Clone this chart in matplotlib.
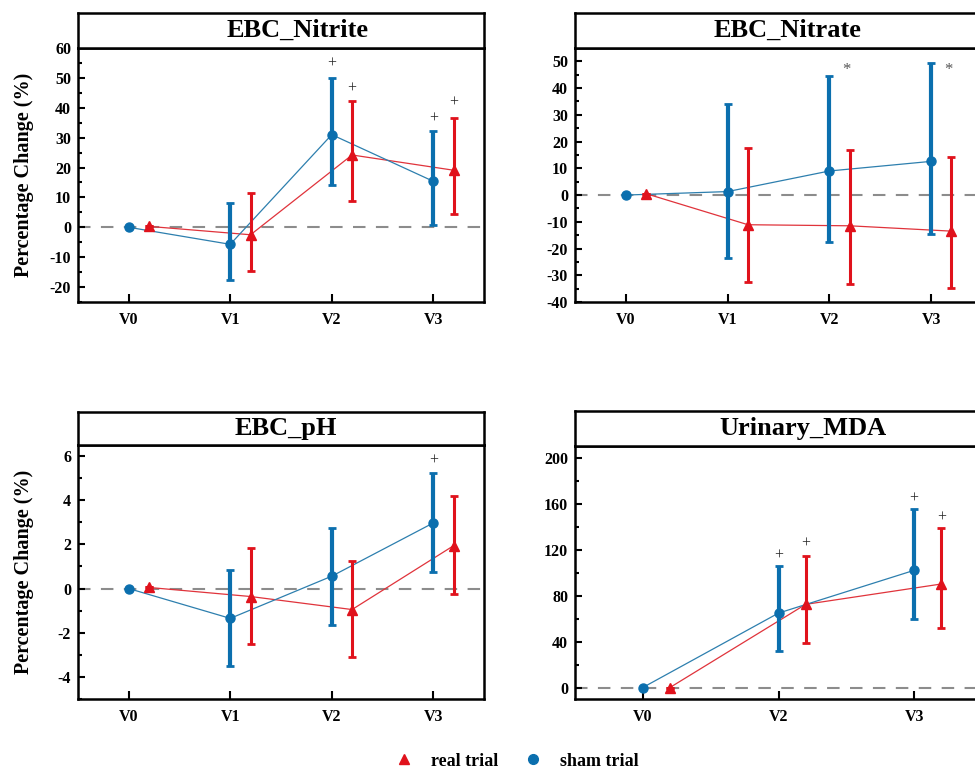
import matplotlib
matplotlib.use("Agg")
import matplotlib.pyplot as plt
from matplotlib.lines import Line2D
from matplotlib.ticker import MultipleLocator
import numpy as np

plt.rcParams["font.family"] = ["Liberation Serif", "DejaVu Serif"]
plt.rcParams["font.weight"] = "bold"
plt.rcParams["axes.unicode_minus"] = False

# ---- data ---------------------------------------------------------------
visits_all = ["V0", "V1", "V2", "V3"]
visits_mda = ["V0", "V2", "V3"]

# EBC nitrite (% change): mean, lower and upper error bound
nitrite_sham = [0.0, -5.7, 31.0, 15.4]
nitrite_sham_lo = [0.0, -17.5, 14.3, 0.9]
nitrite_sham_hi = [0.0, 8.2, 50.0, 32.2]
nitrite_real = [0.3, -2.5, 24.2, 19.1]
nitrite_real_lo = [0.3, -14.5, 8.7, 4.4]
nitrite_real_hi = [0.3, 11.6, 42.3, 36.5]

# EBC nitrate
nitrate_sham = [0.0, 1.3, 9.0, 12.6]
nitrate_sham_lo = [0.0, -23.5, -17.6, -14.7]
nitrate_sham_hi = [0.0, 34.1, 44.5, 49.3]
nitrate_real = [0.5, -11.1, -11.5, -13.5]
nitrate_real_lo = [0.5, -32.7, -33.1, -34.6]
nitrate_real_hi = [0.5, 17.6, 17.0, 14.4]

# EBC pH
ph_sham = [0.0, -1.35, 0.56, 2.97]
ph_sham_lo = [0.0, -3.49, -1.64, 0.74]
ph_sham_hi = [0.0, 0.82, 2.75, 5.24]
ph_real = [0.05, -0.36, -0.95, 1.94]
ph_real_lo = [0.05, -2.53, -3.08, -0.26]
ph_real_hi = [0.05, 1.83, 1.23, 4.20]

# Urinary MDA
mda_sham = [0.0, 64.7, 101.9]
mda_sham_lo = [0.0, 31.6, 59.8]
mda_sham_hi = [0.0, 105.6, 154.8]
mda_real = [0.0, 72.3, 90.0]
mda_real_lo = [0.0, 38.6, 51.4]
mda_real_hi = [0.0, 114.4, 138.8]

# significance marks: (visit index, series, label height)
nitrite_marks = [(2, "sham", 54.7), (2, "real", 46.3), (3, "sham", 36.2), (3, "real", 41.6)]
nitrate_marks = [(2, "real", 46.8), (3, "real", 46.8)]
ph_marks = [(3, "sham", 5.8)]
mda_marks = [(1, "sham", 114.4), (1, "real", 125.0), (2, "sham", 164.6), (2, "real", 147.5)]

# ---- styling ------------------------------------------------------------
BLUE = "#0b6fae"
BLUE_LINE = "#2d7fae"
RED = "#e0121c"
RED_LINE = "#e0333b"
OFFSET = 0.2

W, H = 975, 770
fig = plt.figure(figsize=(W / 100, H / 100), dpi=100)


def box(l, r, top, bottom):
    return [l / W, 1 - bottom / H, (r - l) / W, (bottom - top) / H]


def panel(plot_rect, title_rect, title, title_x, cats, sham, sham_lo, sham_hi,
          real, real_lo, real_hi, ylim, major, minor, marks, mark_text,
          ylabel=False):
    ax = fig.add_axes(box(*plot_rect))
    tx = fig.add_axes(box(*title_rect))
    tx.set_xticks([])
    tx.set_yticks([])
    for s in tx.spines.values():
        s.set_linewidth(1.8)
    tx.text(title_x, 0.5, title, ha="center", va="center", fontsize=19,
            fontweight="bold", transform=tx.transAxes)

    x = np.arange(len(cats))
    xs = x.astype(float)
    xr = x + OFFSET
    sham = np.asarray(sham)
    real = np.asarray(real)

    ax.axhline(0, color="#8c8c8c", lw=1.5, ls=(0, (6, 5)), zorder=1)

    ax.plot(xr, real, color=RED_LINE, lw=0.9, zorder=2)
    ax.plot(xs, sham, color=BLUE_LINE, lw=0.9, zorder=2)

    ax.errorbar(xr, real, yerr=[real - np.asarray(real_lo), np.asarray(real_hi) - real],
                fmt="none", ecolor=RED, elinewidth=2.2, capsize=3.2, capthick=2,
                zorder=3)
    ax.errorbar(xs, sham, yerr=[sham - np.asarray(sham_lo), np.asarray(sham_hi) - sham],
                fmt="none", ecolor=BLUE, elinewidth=3, capsize=3.2, capthick=2,
                zorder=3)

    ax.plot(xr, real, ls="none", marker="^", ms=6.5, color=RED, zorder=4)
    ax.plot(xs, sham, ls="none", marker="o", ms=6.5, color=BLUE, zorder=4)

    for i, series, yv in marks:
        px = i + (OFFSET if series == "real" else 0.0)
        if mark_text == "*":
            px -= 0.03
            ax.text(px, yv, "*", ha="center", va="center", fontsize=12,
                    fontweight="normal", color="#555555", zorder=5)
        else:
            ax.text(px, yv, "+", ha="center", va="center", fontsize=11.5,
                    fontweight="normal", color="#222222", zorder=5)

    ax.set_xlim(-0.5, len(cats) - 0.5)
    ax.set_ylim(*ylim)
    ax.set_xticks(x)
    ax.set_xticklabels(cats)
    ax.yaxis.set_major_locator(MultipleLocator(major))
    ax.yaxis.set_minor_locator(MultipleLocator(minor))
    ax.tick_params(axis="both", which="both", direction="in", top=False,
                   right=False, width=1.5, labelsize=11.5)
    ax.tick_params(axis="y", which="major", length=5, pad=5)
    ax.tick_params(axis="y", which="minor", length=3)
    ax.tick_params(axis="x", which="major", length=6, pad=7)
    ax.tick_params(axis="x", which="minor", bottom=False)
    for lab in ax.get_xticklabels() + ax.get_yticklabels():
        lab.set_fontweight("bold")
    for s in ax.spines.values():
        s.set_linewidth(1.8)
    if ylabel:
        ax.set_ylabel("Percentage Change (%)", fontsize=14.5, fontweight="bold")
        ax.yaxis.set_label_coords(-0.108, 0.5)
    return ax


panel((78, 484, 48, 302), (78, 484, 13, 48), "EBC_Nitrite", 0.542, visits_all,
      nitrite_sham, nitrite_sham_lo, nitrite_sham_hi,
      nitrite_real, nitrite_real_lo, nitrite_real_hi,
      (-25, 60), 10, 5, nitrite_marks, "+", ylabel=True)

panel((575, 982, 48, 302), (575, 982, 13, 48), "EBC_Nitrate", 0.521, visits_all,
      nitrate_sham, nitrate_sham_lo, nitrate_sham_hi,
      nitrate_real, nitrate_real_lo, nitrate_real_hi,
      (-40, 55), 10, 5, nitrate_marks, "*")

panel((78, 484, 445, 699), (78, 484, 412, 445), "EBC_pH", 0.511, visits_all,
      ph_sham, ph_sham_lo, ph_sham_hi,
      ph_real, ph_real_lo, ph_real_hi,
      (-5, 6.5), 2, 1, ph_marks, "+", ylabel=True)

panel((575, 982, 446, 699), (575, 982, 411, 446), "Urinary_MDA", 0.56, visits_mda,
      mda_sham, mda_sham_lo, mda_sham_hi,
      mda_real, mda_real_lo, mda_real_hi,
      (-10, 210), 40, 20, mda_marks, "+")

handles = [
    Line2D([], [], ls="none", marker="^", ms=7, color=RED),
    Line2D([], [], ls="none", marker="o", ms=7, color=BLUE),
]
fig.legend(handles, ["real trial", "sham trial"], loc="center",
           bbox_to_anchor=(0.530, 1 - 761 / H), ncol=2, frameon=False,
           prop={"weight": "bold", "size": 13}, handlelength=1.0,
           handletextpad=1.0, columnspacing=1.45)

fig.savefig("out.png", dpi=100, facecolor="white")
